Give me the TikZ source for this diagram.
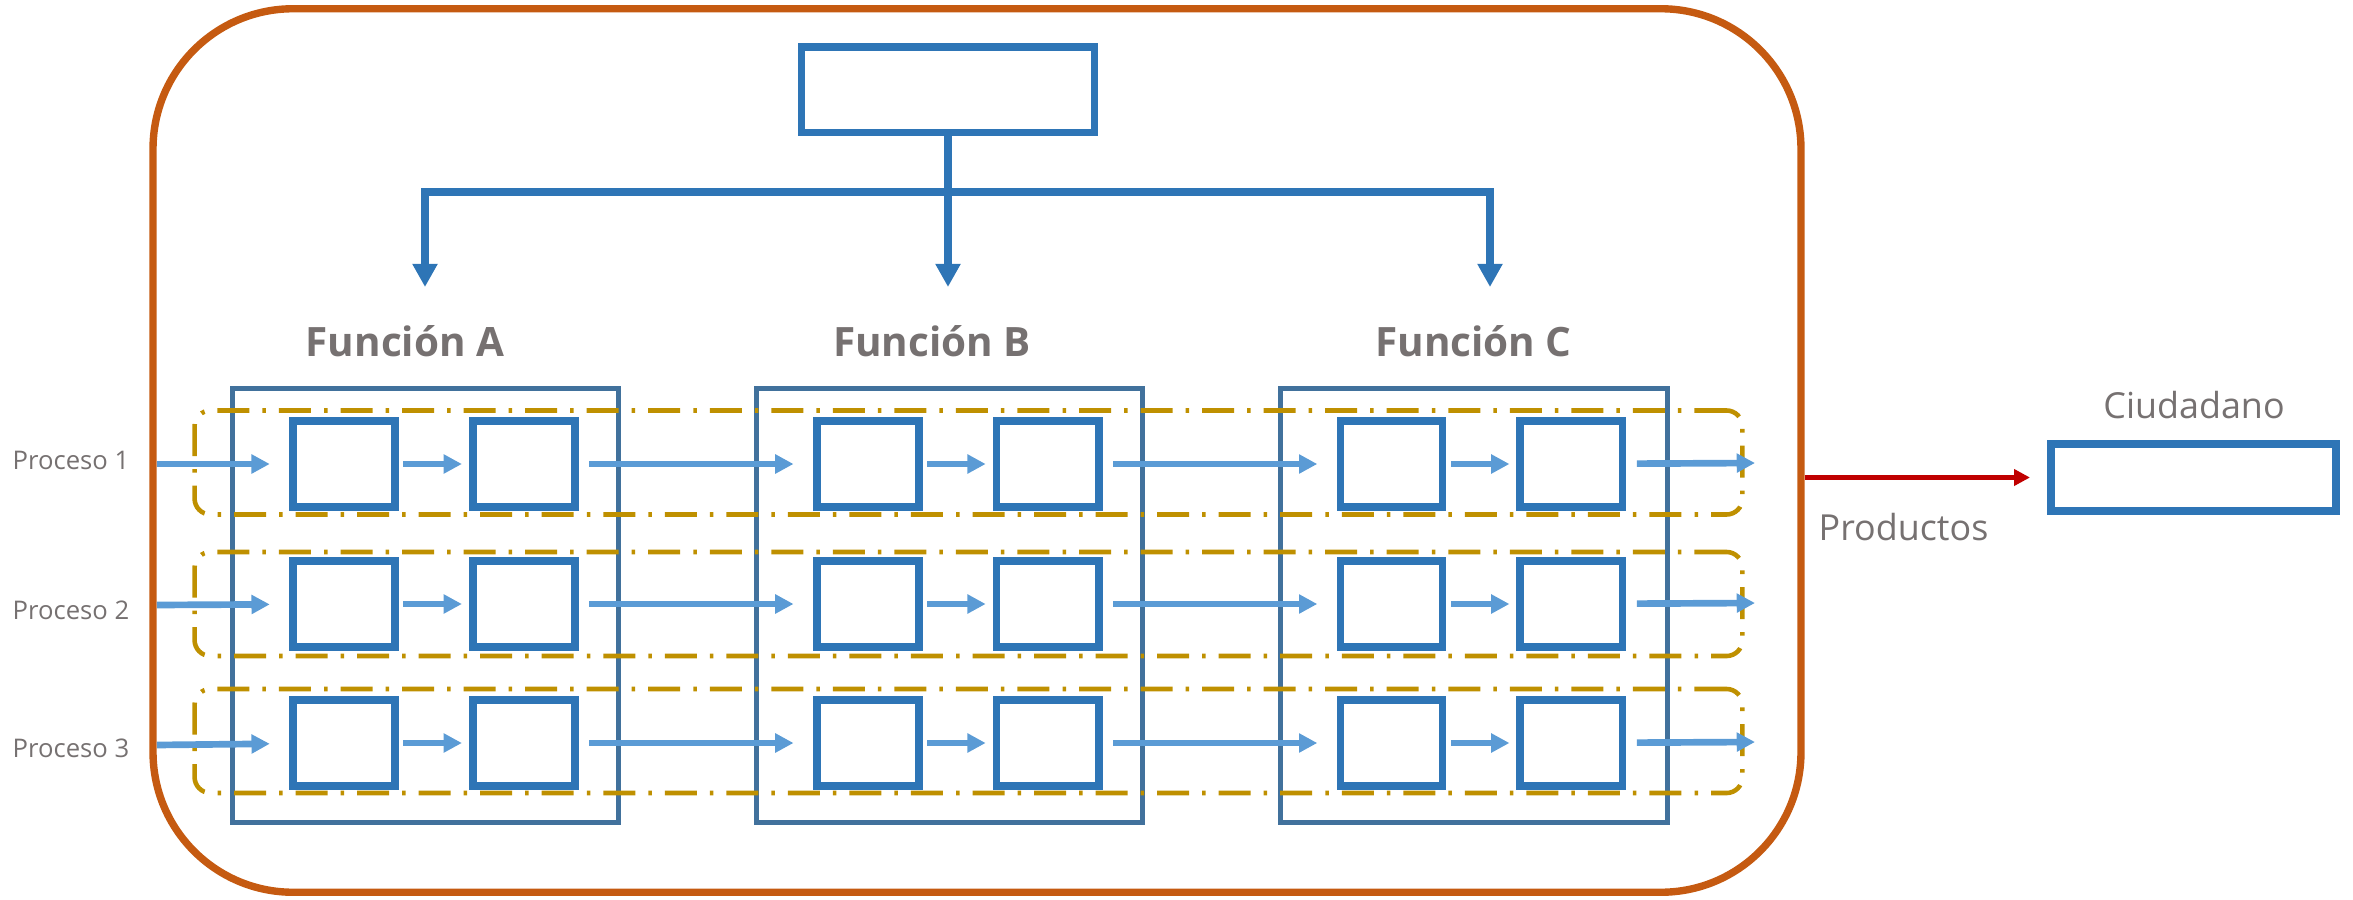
\documentclass[tikz,border=0pt]{standalone}
\usepackage{fontspec}
\setmainfont{Open Sans}
\usetikzlibrary{positioning}
\usetikzlibrary{calc}
\usetikzlibrary{arrows.meta}

\definecolor{naranja}{HTML}{C55A11}
\definecolor{azul}{HTML}{2E75B6}
\definecolor{azulmarco}{HTML}{41719C}
\definecolor{celeste}{HTML}{5B9BD5}
\definecolor{dorado}{HTML}{BF9000}
\definecolor{rojo}{HTML}{C00000}
\definecolor{gris}{HTML}{767171}

\begin{document}
\begin{tikzpicture}[x=0.01cm, y=-0.01cm, text centered,
        caja/.style={draw=azul, line width=2.2pt, minimum width=1.02cm, minimum height=0.86cm, inner sep=0pt},
        funcion/.style={draw=azulmarco, line width=1.4pt, minimum width=3.86cm, minimum height=4.34cm, inner sep=0pt},
        proceso/.style={draw=dorado, line width=1.3pt, rounded corners=0.16cm, dash pattern=on 9.1pt off 3.7pt on 1pt off 3.7pt, minimum width=15.47cm, minimum height=1.04cm, inner sep=0pt},
        titulo/.style={text=gris, font=\bfseries\fontsize{11.5}{13}\selectfont, anchor=base},
        etiqueta/.style={text=gris, font=\fontsize{7.3}{9}\selectfont, anchor=base},
        rotulo/.style={text=gris, font=\fontsize{10.2}{12}\selectfont, anchor=base},
        corto/.style={draw=celeste, line width=1.9pt, -{Triangle[length=5.2pt,width=5.2pt]}, shorten <=1.3pt, shorten >=2pt},
        largo/.style={draw=celeste, line width=1.9pt, -{Triangle[length=5.2pt,width=5.2pt]}, shorten <=3pt, shorten >=5.5pt},
        linea/.style={draw=azul, line width=2.1pt, line cap=rect},
        bajada/.style={draw=azul, line width=2.1pt, -{Triangle[length=6.6pt,width=6.8pt]}}]
        \useasboundingbox (0,0) rectangle (2353,900);

        \node[draw=naranja, line width=2.1pt, rounded corners=1.4cm, minimum width=16.47cm, minimum height=8.83cm, inner sep=0pt] (marco) at (977,450.5) {};
        \node[draw=azul, line width=2.1pt, minimum width=2.93cm, minimum height=0.85cm, inner sep=0pt] (direccion) at (948,89.7) {};

        \node[funcion] (fa) at (425.5,605.5) {};
        \node[funcion, right = 1.33cm of fa] (fb) {};
        \node[funcion, right = 1.33cm of fb] (fc) {};

        \node[titulo] (ta) at (405,356) {Función A};
        \node[titulo] (tb) at (932,356) {Función B};
        \node[titulo] (tc) at (1473.5,356) {Función C};

        \node[proceso] (p1) at (968.5,462.5) {};
        \node[proceso] (p2) at (968.5,604) {};
        \node[proceso] (p3) at (968.5,741) {};

        \node[etiqueta] (l1) at (71,469) {Proceso 1};
        \node[etiqueta] (l2) at (71,619) {Proceso 2};
        \node[etiqueta] (l3) at (71,757) {Proceso 3};

        \node[caja] (a11) at (344,464) {};
        \node[caja, right = 0.7cm of a11] (a12) {};
        \node[caja, right = 2.34cm of a12] (b11) {};
        \node[caja, right = 0.7cm of b11] (b12) {};
        \node[caja, right = 2.34cm of b12] (c11) {};
        \node[caja, right = 0.7cm of c11] (c12) {};

        \node[caja] (a21) at (344,604) {};
        \node[caja, right = 0.7cm of a21] (a22) {};
        \node[caja, right = 2.34cm of a22] (b21) {};
        \node[caja, right = 0.7cm of b21] (b22) {};
        \node[caja, right = 2.34cm of b22] (c21) {};
        \node[caja, right = 0.7cm of c21] (c22) {};

        \node[caja] (a31) at (344,743) {};
        \node[caja, right = 0.7cm of a31] (a32) {};
        \node[caja, right = 2.34cm of a32] (b31) {};
        \node[caja, right = 0.7cm of b31] (b32) {};
        \node[caja, right = 2.34cm of b32] (c31) {};
        \node[caja, right = 0.7cm of c31] (c32) {};

        \node[draw=azul, line width=2.3pt, minimum width=2.85cm, minimum height=0.67cm, inner sep=0pt] (ciudadano) at (2193.5,477.5) {};
        \node[rotulo] (tciudadano) at (2194,418) {Ciudadano};
        \node[rotulo] (productos) at (1903.5,540) {Productos};

        \coordinate (rama) at (948,192);
        \coordinate (ramaA) at (425,192);
        \coordinate (ramaC) at (1490,192);
        \coordinate (puntaA) at (425,287);
        \coordinate (puntaB) at (948,287);
        \coordinate (puntaC) at (1490,287);

        \draw[linea] (direccion) -- (rama);
        \draw[linea] (ramaA) -- (ramaC);
        \draw[bajada] (ramaA) -- (puntaA);
        \draw[bajada] (rama) -- (puntaB);
        \draw[bajada] (ramaC) -- (puntaC);

        \coordinate (e1) at (157,464);
        \coordinate (e2) at (157,605);
        \coordinate (e3) at (157,745);
        \coordinate (s1) at (1755,463);
        \coordinate (s2) at (1755,603);
        \coordinate (s3) at (1755,742);

        \draw[largo, shorten <=0pt] (e1) -- (a11);
        \draw[corto] (a11) -- (a12);
        \draw[largo] (a12) -- (b11);
        \draw[corto] (b11) -- (b12);
        \draw[largo] (b12) -- (c11);
        \draw[corto] (c11) -- (c12);
        \draw[largo, shorten >=0pt] (c12) -- (s1);

        \draw[largo, shorten <=0pt] (e2) -- (a21);
        \draw[corto] (a21) -- (a22);
        \draw[largo] (a22) -- (b21);
        \draw[corto] (b21) -- (b22);
        \draw[largo] (b22) -- (c21);
        \draw[corto] (c21) -- (c22);
        \draw[largo, shorten >=0pt] (c22) -- (s2);

        \draw[largo, shorten <=0pt] (e3) -- (a31);
        \draw[corto] (a31) -- (a32);
        \draw[largo] (a32) -- (b31);
        \draw[corto] (b31) -- (b32);
        \draw[largo] (b32) -- (c31);
        \draw[corto] (c31) -- (c32);
        \draw[largo, shorten >=0pt] (c32) -- (s3);

        \draw[draw=rojo, line width=1.2pt, -{Triangle[length=4.5pt,width=4.5pt]}, shorten >=4.8pt] (marco.east |- ciudadano) -- (ciudadano);
    \end{tikzpicture}
\end{document}
